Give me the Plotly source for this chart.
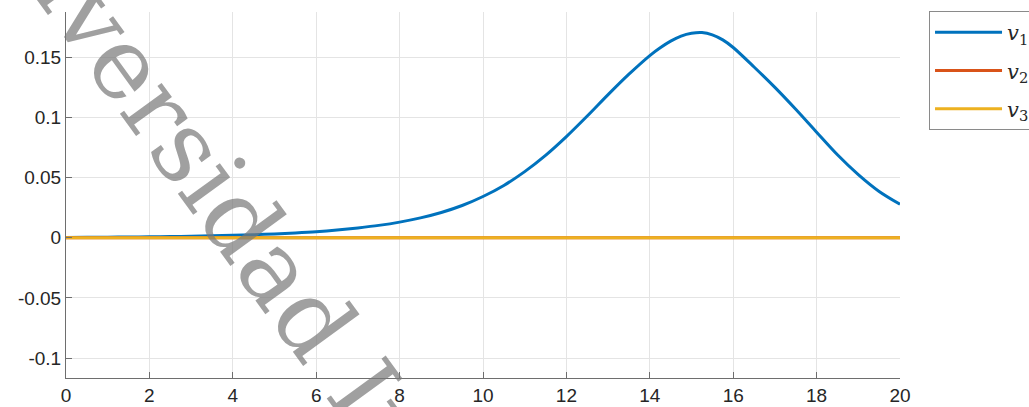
import plotly.graph_objects as go

# Time samples and response of the first state
t = [0, 0.5, 1, 1.5, 2, 2.5, 3, 3.5, 4, 4.5, 5, 5.5, 6, 6.5, 7, 7.5, 8, 8.5, 9, 9.5,
     10, 10.5, 11, 11.5, 12, 12.5, 13, 13.5, 14, 14.25, 14.5, 14.75, 15, 15.25, 15.5,
     15.75, 16, 16.5, 17, 17.5, 18, 18.5, 19, 19.5, 20]
v1 = [0.0003, 0.0004, 0.0005, 0.0006, 0.0008, 0.0010, 0.0013, 0.0016, 0.0020, 0.0025,
      0.0032, 0.0040, 0.0050, 0.0064, 0.0082, 0.0103, 0.0130, 0.0165, 0.0210, 0.0268,
      0.0343, 0.0435, 0.0550, 0.0685, 0.0841, 0.1012, 0.1190, 0.1360, 0.1515, 0.1580,
      0.1635, 0.1677, 0.1700, 0.1706, 0.1687, 0.1645, 0.1582, 0.1420, 0.1250, 0.1068,
      0.0878, 0.0690, 0.0525, 0.0385, 0.0278]

# The other two states stay at zero over the whole interval
t_flat = [0, 20]
v2 = [0.0, 0.0]
v3 = [0.0, 0.0]

x_ticks = [0, 2, 4, 6, 8, 10, 12, 14, 16, 18, 20]
y_ticks = [-0.1, -0.05, 0, 0.05, 0.1, 0.15]
y_tick_text = ["-0.1", "-0.05", "0", "0.05", "0.1", "0.15"]

names = ["<i>v</i><sub>1</sub>", "<i>v</i><sub>2</sub>", "<i>v</i><sub>3</sub>"]
colors = ["#0072BD", "#D95319", "#EDB120"]
serif = "DejaVu Serif"

fig = go.Figure()
fig.add_trace(go.Scatter(x=t, y=v1, mode="lines", name=names[0], legendgroup="a",
                         line=dict(color=colors[0], width=3, shape="spline", smoothing=0.8)))
fig.add_trace(go.Scatter(x=t_flat, y=v2, mode="lines", name=names[1], legendgroup="b",
                         line=dict(color=colors[1], width=3)))
fig.add_trace(go.Scatter(x=t_flat, y=v3, mode="lines", name=names[2], legendgroup="c",
                         line=dict(color=colors[2], width=3)))

axis_common = dict(
    showline=True, linecolor="#6e6e6e", linewidth=1,
    ticks="inside", ticklen=6, tickcolor="#6e6e6e",
    showgrid=True, gridcolor="#e4e4e4", gridwidth=1,
    zeroline=False, mirror=False,
    tickfont=dict(family="Arial", size=19, color="#262626"),
)

fig.update_xaxes(range=[0, 20], tickvals=x_ticks, **axis_common)
fig.update_yaxes(range=[-0.1166, 0.1877], tickvals=y_ticks, ticktext=y_tick_text,
                 **axis_common)

fig.update_layout(
    width=1029, height=407,
    margin=dict(l=66, r=129, t=12, b=29, autoexpand=False),
    paper_bgcolor="white", plot_bgcolor="white",
    showlegend=True,
    legend=dict(
        x=1.0348, y=1.0027, xanchor="left", yanchor="top",
        bgcolor="white", bordercolor="#8a8a8a", borderwidth=1,
        font=dict(family=serif, size=21, color="#262626"),
        itemwidth=67, tracegroupgap=8, traceorder="grouped",
    ),
    annotations=[dict(
        text="Universidad Internacional de La Rioja",
        xref="paper", yref="paper", x=0.566, y=-0.689,
        xanchor="center", yanchor="middle", showarrow=False, textangle=54,
        font=dict(family=serif, size=100, color="rgba(120,120,120,0.7)"),
    )],
)

fig.write_html("out.html")
